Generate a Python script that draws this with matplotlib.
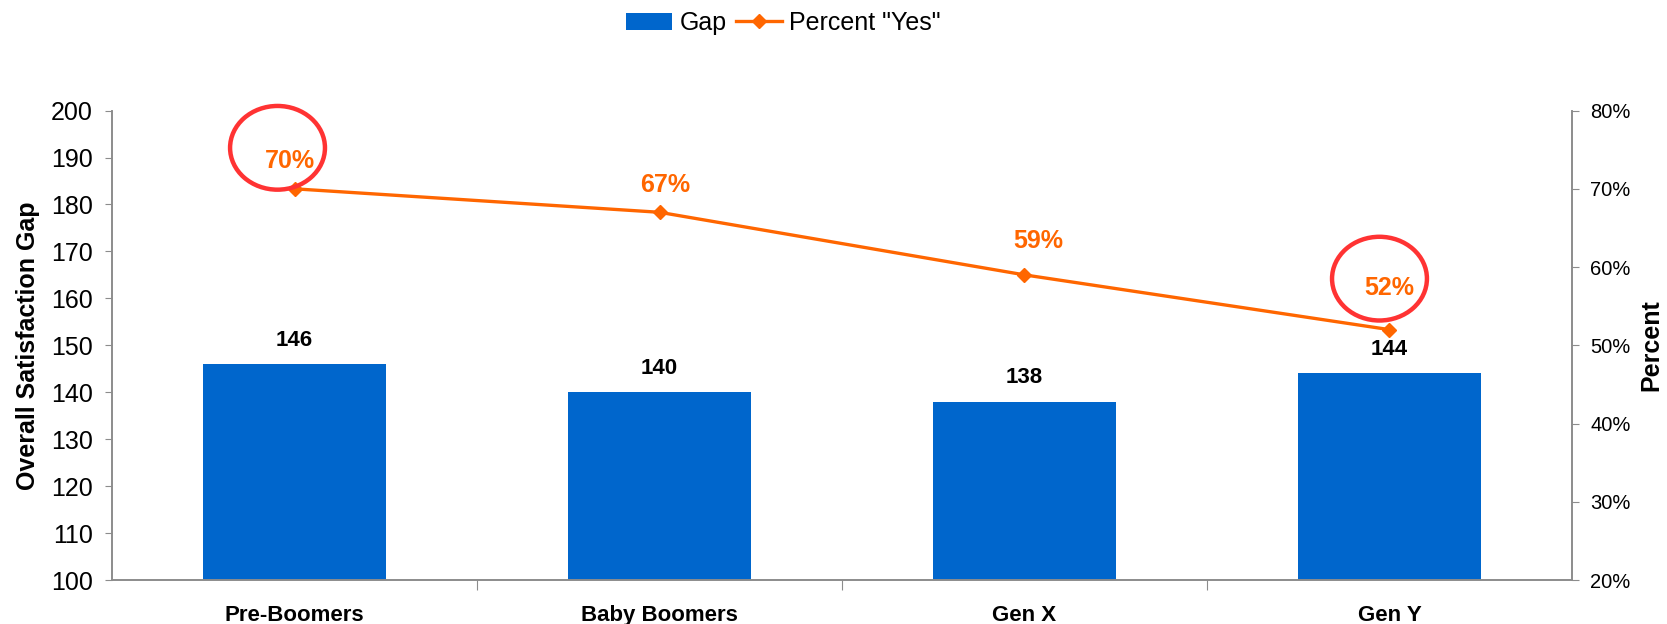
import matplotlib
matplotlib.use("Agg")
import matplotlib.pyplot as plt
from matplotlib.patches import Ellipse
from matplotlib.ticker import FuncFormatter, FixedLocator
from matplotlib.transforms import offset_copy

plt.rcParams["font.family"] = ["Liberation Sans", "DejaVu Sans"]

generations = ["Pre-Boomers", "Baby Boomers", "Gen X", "Gen Y"]
gap = [146, 140, 138, 144]
pct_yes = [70, 67, 59, 52]
circled = ["Pre-Boomers", "Gen Y"]

# hand-placed label offsets (pixels from the marker) and ring offsets
pct_label_shift = [(-5, 28), (6, 27), (14, 34), (0, 42)]
ring_shift = {"Pre-Boomers": (-17, 41), "Gen Y": (-10, 51)}

BLUE = "#0066CC"
ORANGE = "#FF6600"
RED = "#FF3333"
AXIS_GRAY = "#8C8C8C"

fig = plt.figure(figsize=(16.67, 6.24), dpi=100)
ax = fig.add_axes([0.0672, 0.0705, 0.943 - 0.0672, 0.8228 - 0.0705])
ax2 = ax.twinx()

x = list(range(len(generations)))

# bars on the left axis
bars = ax.bar(x, gap, width=0.5, color=BLUE, label="Gap", zorder=2)
ax.set_xlim(-0.5, len(generations) - 0.5)
ax.set_ylim(100, 200)
ax.set_yticks(range(100, 201, 10))
for xi, v in zip(x, gap):
    ax.annotate(f"{v}", (xi, v), xytext=(0, 24), textcoords="offset pixels",
                ha="center", va="center", fontsize=16, fontweight="bold",
                color="black")

# percent line on the right axis
line, = ax2.plot(x, pct_yes, color=ORANGE, lw=2.4, marker="D", markersize=7,
                 label='Percent "Yes"', zorder=3)
ax2.set_ylim(20, 80)
ax2.set_yticks(range(20, 81, 10))
ax2.yaxis.set_major_formatter(FuncFormatter(lambda v, _: f"{v:.0f}%"))
for xi, v, (dx, dy) in zip(x, pct_yes, pct_label_shift):
    ax2.annotate(f"{v}%", (xi, v), xytext=(dx, dy), textcoords="offset pixels",
                 ha="center", va="center", fontsize=18, fontweight="bold",
                 color=ORANGE)

# red rings around the highlighted percentages
for name in circled:
    i = generations.index(name)
    dx, dy = ring_shift[name]
    tr = offset_copy(ax2.transData, fig=fig, x=dx, y=dy, units="dots")
    ax2.add_patch(Ellipse((i, pct_yes[i]), width=0.26, height=10.7,
                          transform=tr, fill=False, edgecolor=RED, lw=3.2,
                          zorder=4, clip_on=False))

# category ticks: marks between groups, labels at group centres
ax.xaxis.set_major_locator(FixedLocator([0.5, 1.5, 2.5]))
ax.xaxis.set_minor_locator(FixedLocator(x))
ax.set_xticklabels([], minor=False)
ax.set_xticklabels(generations, minor=True, fontsize=16, fontweight="bold")
ax.tick_params(axis="x", which="major", length=7, color=AXIS_GRAY, direction="out")
ax.tick_params(axis="x", which="minor", length=0, pad=18)

ax.tick_params(axis="y", labelsize=18, length=5, color=AXIS_GRAY, pad=9)
ax2.tick_params(axis="y", labelsize=14.5, length=5, color=AXIS_GRAY, pad=8)

for a in (ax, ax2):
    a.spines["top"].set_visible(False)
    for s in ("left", "right", "bottom"):
        a.spines[s].set_color(AXIS_GRAY)
        a.spines[s].set_linewidth(1.2)

fig.text(28 / 1667, 0.4466, "Overall Satisfaction Gap", rotation=90,
         ha="center", va="center", fontsize=18, fontweight="bold")
fig.text(1651 / 1667, 0.4466, "Percent", rotation=90,
         ha="center", va="center", fontsize=18, fontweight="bold")

fig.legend([bars, line], ["Gap", 'Percent "Yes"'], loc="center",
           bbox_to_anchor=(0.47, 0.963), ncol=2, frameon=False, fontsize=18,
           handlelength=1.85, handleheight=0.7, handletextpad=0.3,
           columnspacing=0.35)

fig.savefig("out.png", dpi=100)
